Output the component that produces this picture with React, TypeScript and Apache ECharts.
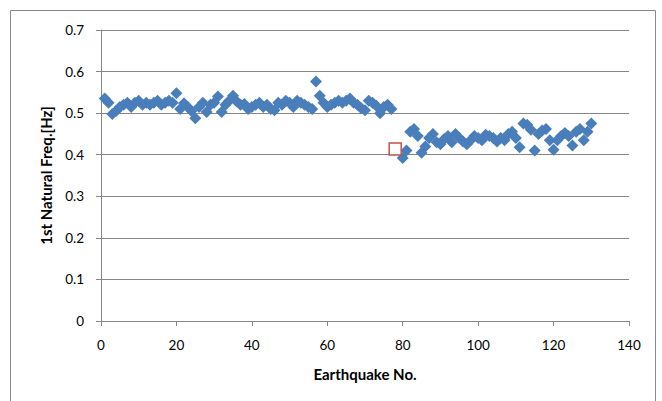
import React, { useEffect, useRef } from "react";
import * as echarts from "echarts";

// Earthquake No. 1..77 (first period)
const firstStart = 1;
const firstValues = [
  0.535, 0.525, 0.498, 0.505, 0.515, 0.52, 0.525, 0.515, 0.525, 0.53,
  0.52, 0.525, 0.52, 0.525, 0.53, 0.52, 0.525, 0.53, 0.525, 0.548,
  0.51, 0.524, 0.515, 0.505, 0.488, 0.515, 0.525, 0.503, 0.52, 0.525,
  0.54, 0.503, 0.52, 0.53, 0.542, 0.528, 0.52, 0.522, 0.51, 0.515,
  0.52, 0.525, 0.515, 0.52, 0.51, 0.507, 0.525, 0.52, 0.53, 0.525,
  0.515, 0.53, 0.525, 0.52, 0.515, 0.51, 0.576, 0.542, 0.525, 0.515,
  0.52, 0.525, 0.53, 0.525, 0.53, 0.535, 0.525, 0.52, 0.512, 0.507,
  0.53, 0.525, 0.518, 0.5, 0.515, 0.52, 0.51,
];

// Earthquake No. 80..130 (second period)
const secondStart = 80;
const secondValues = [
  0.392, 0.41, 0.455, 0.462, 0.445, 0.405, 0.42, 0.44, 0.45, 0.43,
  0.425, 0.438, 0.445, 0.43, 0.45, 0.44, 0.432, 0.425, 0.435, 0.445,
  0.44, 0.435, 0.448, 0.445, 0.44, 0.432, 0.44, 0.435, 0.45, 0.455,
  0.44, 0.418, 0.475, 0.472, 0.46, 0.41, 0.45, 0.458, 0.462, 0.435,
  0.412, 0.435, 0.445, 0.452, 0.445, 0.422, 0.455, 0.462, 0.435, 0.455,
  0.475,
];

// highlighted earthquake (hollow red square)
const markedPoint = [78, 0.414];

const xTicks = { min: 0, max: 140, interval: 20 };
const yTicks = { min: 0, max: 0.7, interval: 0.1 };

const FONT = "Lato";

export default function App() {
  const ref = useRef<HTMLDivElement>(null);

  useEffect(() => {
    if (!ref.current) return;
    const chart = echarts.init(ref.current, undefined, { renderer: "svg" });
    const blue = [
      ...firstValues.map((v, i) => [firstStart + i, v]),
      ...secondValues.map((v, i) => [secondStart + i, v]),
    ];
    const axisGray = "#868686";
    chart.setOption({
      animation: false,
      backgroundColor: "#ffffff",
      grid: { left: 101, right: 33, top: 30, bottom: 80 },
      graphic: [
        {
          type: "rect",
          shape: { x: 10.5, y: 10.5, width: 645, height: 420 },
          style: { fill: "none", stroke: "#898989", lineWidth: 1 },
          silent: true,
          z: -1,
        },
      ],
      xAxis: {
        type: "value",
        min: xTicks.min,
        max: xTicks.max,
        interval: xTicks.interval,
        name: "Earthquake No.",
        nameLocation: "middle",
        nameGap: 45,
        nameTextStyle: { fontFamily: FONT, fontSize: 15, fontWeight: "bold", color: "#000" },
        axisLine: { show: true, onZero: false, lineStyle: { color: axisGray, width: 1 } },
        axisTick: { show: true, length: 5, lineStyle: { color: axisGray } },
        axisLabel: { fontFamily: FONT, fontSize: 13.5, color: "#000", margin: 17 },
        splitLine: { show: false },
      },
      yAxis: {
        type: "value",
        min: yTicks.min,
        max: yTicks.max,
        interval: yTicks.interval,
        name: "1st Natural Freq.[Hz]",
        nameLocation: "middle",
        nameGap: 48,
        nameTextStyle: { fontFamily: FONT, fontSize: 15, fontWeight: "bold", color: "#000" },
        axisLine: { show: true, lineStyle: { color: axisGray, width: 1 } },
        axisTick: { show: true, length: 5, lineStyle: { color: axisGray } },
        axisLabel: {
          fontFamily: FONT,
          fontSize: 13.5,
          color: "#000",
          margin: 17,
          formatter: (v: number) => (v === 0 ? "0" : v.toFixed(1)),
        },
        splitLine: { show: true, lineStyle: { color: axisGray, width: 1 } },
      },
      series: [
        {
          type: "scatter",
          data: blue,
          symbol: "diamond",
          symbolSize: 12,
          itemStyle: { color: "#4a7ebb", opacity: 1 },
          z: 2,
        },
        {
          type: "scatter",
          data: [markedPoint],
          symbol: "rect",
          symbolSize: 12,
          itemStyle: { color: "#ffffff", borderColor: "#c0504d", borderWidth: 1.5, opacity: 1 },
          z: 3,
        },
      ],
    });
    return () => chart.dispose();
  }, []);

  return (
    <div
      ref={ref}
      style={{ position: "absolute", left: 0, top: 0, width: 662, height: 401, background: "#fff" }}
    />
  );
}
